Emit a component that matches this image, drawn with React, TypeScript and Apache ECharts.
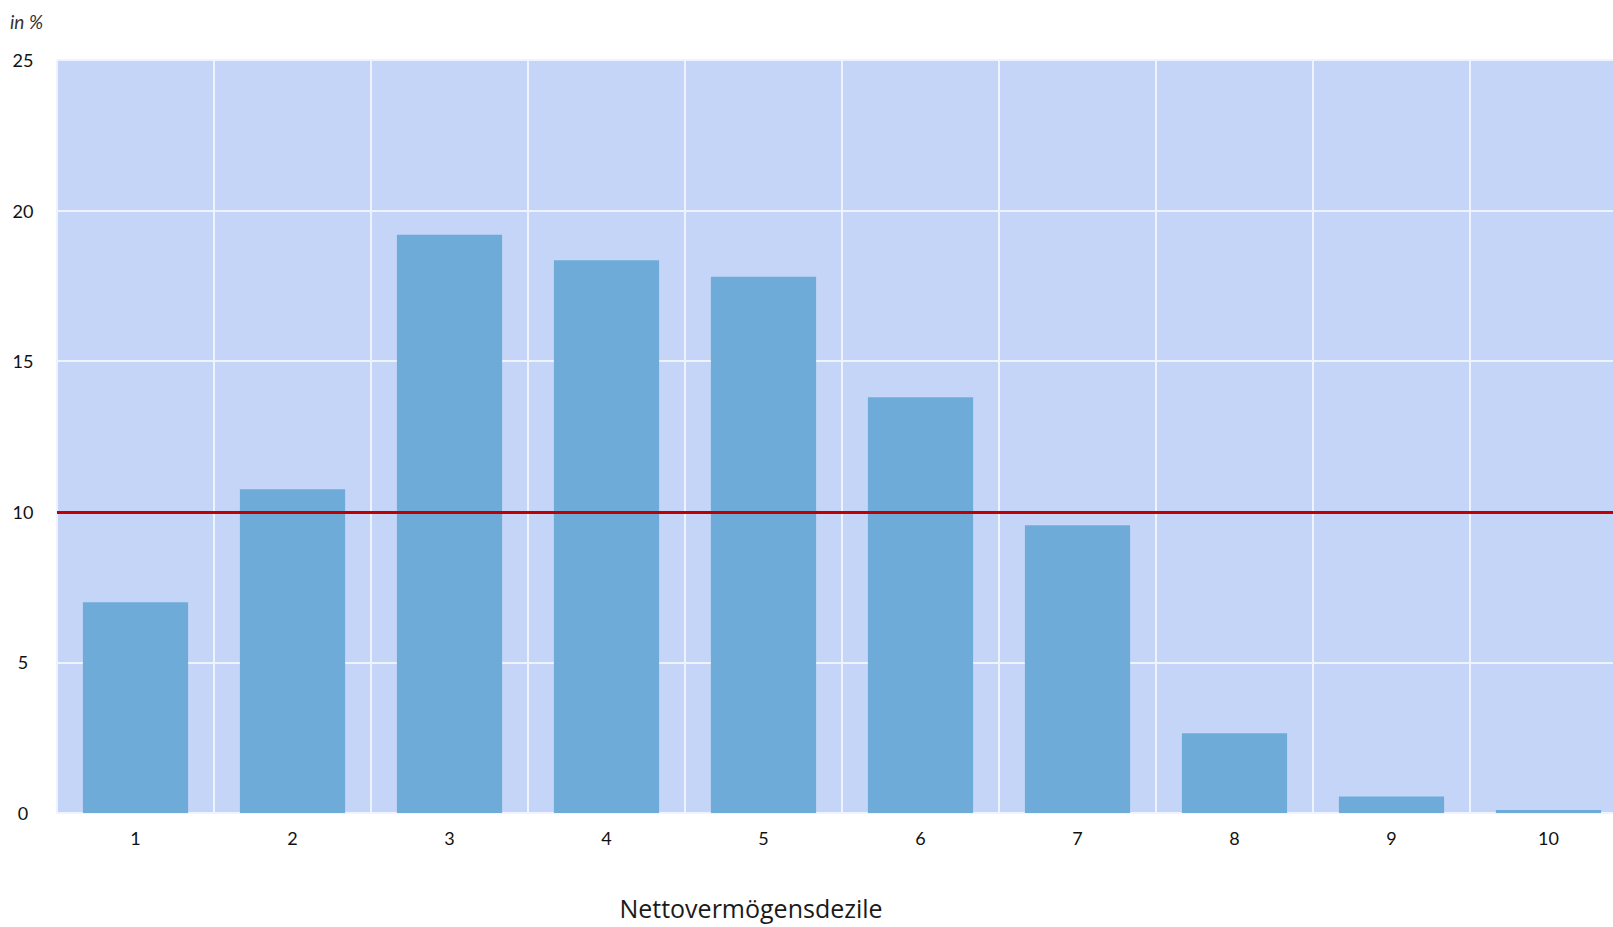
import React, { useEffect, useRef } from "react";
import * as echarts from "echarts";

const categories = ["1", "2", "3", "4", "5", "6", "7", "8", "9", "10"];
const shares = [7.0, 10.75, 19.2, 18.35, 17.8, 13.8, 9.55, 2.65, 0.55, 0.1];
const referenceLine = 10;
const yTicks = { min: 0, max: 25, interval: 5 };
const unitLabel = "in %";
const axisTitle = "Nettovermögensdezile";

export default function App() {
  const ref = useRef<HTMLDivElement>(null);
  useEffect(() => {
    if (!ref.current) return;
    const chart = echarts.init(ref.current, null, { renderer: "svg" });
    const font = "Lato, 'Open Sans', sans-serif";
    chart.setOption({
      animation: false,
      grid: {
        left: 57,
        top: 60,
        right: 0,
        bottom: 114,
        show: true,
        backgroundColor: "#c4d5f7",
        borderWidth: 0,
      },
      xAxis: {
        type: "category",
        data: categories,
        axisLine: { show: false },
        axisTick: { show: false },
        axisLabel: { color: "#111", fontSize: 18, fontFamily: font, margin: 16 },
        splitLine: { show: true, lineStyle: { color: "#eef3ff", width: 2 } },
      },
      yAxis: {
        type: "value",
        min: yTicks.min,
        max: yTicks.max,
        interval: yTicks.interval,
        axisLine: { show: false },
        axisTick: { show: false },
        axisLabel: { color: "#111", fontSize: 18, fontFamily: font, margin: 34, align: "center" },
        splitLine: { show: true, lineStyle: { color: "#eef3ff", width: 2 } },
      },
      series: [
        {
          type: "bar",
          data: shares,
          barCategoryGap: "33%",
          itemStyle: { color: "#6eabd9" },
          markLine: {
            silent: true,
            symbol: "none",
            label: { show: false },
            lineStyle: { color: "#c00000", width: 3, type: "solid" },
            data: [{ yAxis: referenceLine }],
          },
        },
      ],
      graphic: [
        {
          type: "text",
          left: 10,
          top: 12,
          style: { text: unitLabel, fontSize: 19, fontStyle: "italic", fontFamily: font, fill: "#333" },
        },
        {
          type: "text",
          x: 751,
          y: 908,
          style: {
            text: axisTitle,
            fontSize: 25,
            fontFamily: "'Open Sans', sans-serif",
            fill: "#1a1a1a",
            align: "center",
            verticalAlign: "middle",
          },
        },
      ],
    });
    return () => chart.dispose();
  }, []);
  return (
    <div style={{ position: "fixed", left: 0, top: 0, width: 1613, height: 927, overflow: "hidden", background: "#fff" }}>
      <div ref={ref} style={{ width: 1627, height: 927 }} />
    </div>
  );
}
